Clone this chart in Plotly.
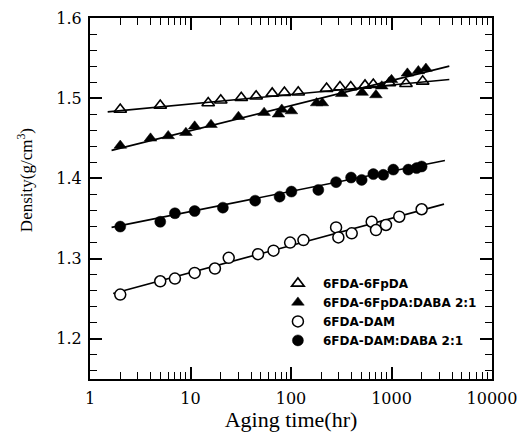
import plotly.graph_objects as go

# ---- data ----
t_6fpda = [2, 5, 15, 20, 32, 45, 65, 86, 118, 226, 307, 393, 545, 659, 951, 1393, 2043]
d_6fpda = [1.486, 1.491, 1.494, 1.4975, 1.5005, 1.5025, 1.506, 1.507, 1.5075, 1.512,
           1.514, 1.514, 1.516, 1.517, 1.519, 1.518, 1.521]

t_6fpda_daba = [2, 4, 6, 9, 11, 16, 30, 54, 75, 81, 101, 180, 205, 320, 510, 700, 800,
                1000, 1440, 1850, 2200]
d_6fpda_daba = [1.441, 1.450, 1.453, 1.457, 1.465, 1.467, 1.477, 1.482, 1.480, 1.486,
                1.484, 1.494, 1.494, 1.5055, 1.507, 1.504, 1.515, 1.523, 1.531, 1.534, 1.537]

t_dam = [2, 5, 7, 11, 17.5, 24, 47, 67, 98, 133, 281, 296, 402, 635, 701, 881, 1194, 1995]
d_dam = [1.2552, 1.2718, 1.2752, 1.2822, 1.2877, 1.301, 1.3056, 1.31, 1.320, 1.3232,
         1.339, 1.3265, 1.3316, 1.346, 1.3357, 1.342, 1.3523, 1.3616]

t_dam_daba = [2, 5, 7, 11, 21, 44, 77, 101, 187, 281, 396, 505, 659, 828, 1042, 1469,
              1778, 1995]
d_dam_daba = [1.340, 1.346, 1.3566, 1.3594, 1.3636, 1.3723, 1.3773, 1.3836, 1.3857,
              1.3954, 1.4011, 1.3982, 1.4054, 1.4045, 1.411, 1.411, 1.4129, 1.4149]

# fitted trend lines (end points)
fit_t_6fpda = [1.5, 3760]
fit_d_6fpda = [1.483, 1.5234]
fit_t_6fpda_daba = [1.64, 3760]
fit_d_6fpda_daba = [1.435, 1.540]
fit_t_dam = [1.7, 3330]
fit_d_dam = [1.2565, 1.368]
fit_t_dam_daba = [1.64, 3400]
fit_d_dam_daba = [1.339, 1.4224]

names = ["6FDA-6FpDA", "6FDA-6FpDA:DABA 2:1", "6FDA-DAM", "6FDA-DAM:DABA 2:1"]
x_ticks = [1, 10, 100, 1000, 10000]
x_ticktext = ["1", "10", "100", "1000", "10000"]
y_ticks = [1.2, 1.3, 1.4, 1.5, 1.6]
y_ticktext = ["1.2", "1.3", "1.4", "1.5", "1.6"]
x_title = "Aging time(hr)"
y_title = "Density(g/cm<sup>3</sup>)"

fig = go.Figure()

for ft, fd in [(fit_t_6fpda, fit_d_6fpda), (fit_t_6fpda_daba, fit_d_6fpda_daba),
               (fit_t_dam, fit_d_dam), (fit_t_dam_daba, fit_d_dam_daba)]:
    fig.add_trace(go.Scatter(x=ft, y=fd, mode="lines", showlegend=False,
                             line=dict(color="black", width=1.6), hoverinfo="skip"))

fig.add_trace(go.Scatter(x=t_6fpda, y=d_6fpda, mode="markers", name=names[0],
                         marker=dict(symbol="triangle-up-open", size=11, color="black",
                                     line=dict(width=1.6, color="black"))))
fig.add_trace(go.Scatter(x=t_6fpda_daba, y=d_6fpda_daba, mode="markers", name=names[1],
                         marker=dict(symbol="triangle-up", size=11, color="black",
                                     line=dict(width=0.5, color="black"))))
fig.add_trace(go.Scatter(x=t_dam, y=d_dam, mode="markers", name=names[2],
                         marker=dict(symbol="circle", size=11, color="white",
                                     line=dict(width=1.5, color="black"))))
fig.add_trace(go.Scatter(x=t_dam_daba, y=d_dam_daba, mode="markers", name=names[3],
                         marker=dict(symbol="circle", size=11, color="black",
                                     line=dict(width=0.5, color="black"))))

tick_font = dict(family="DejaVu Serif", size=16, color="black")
title_font_family = "Liberation Serif, Times New Roman, serif"

fig.update_layout(
    width=524, height=432,
    margin=dict(l=90, r=32, t=18, b=53, autoexpand=False),
    paper_bgcolor="white", plot_bgcolor="white",
    showlegend=True,
    legend=dict(x=0.455, y=0.305, xanchor="left", yanchor="top",
                bgcolor="rgba(0,0,0,0)", borderwidth=0,
                font=dict(family="DejaVu Sans, sans-serif", size=12,
                          color="black", weight="bold"),
                tracegroupgap=0, itemwidth=40),
    xaxis=dict(
        type="log", range=[0, 4], automargin=False,
        tickmode="array", tickvals=x_ticks, ticktext=x_ticktext,
        ticks="inside", ticklen=12, tickwidth=1.5, tickcolor="black",
        showline=True, linewidth=2, linecolor="black", mirror="allticks",
        showgrid=False, zeroline=False,
        tickfont=tick_font, ticklabelstandoff=4,
        minor=dict(ticks="inside", ticklen=7, tickwidth=1.2, tickcolor="black",
                   dtick="D1", showgrid=False),
        title=dict(text=x_title,
                   font=dict(family=title_font_family, size=22, color="black"),
                   standoff=6),
    ),
    yaxis=dict(
        range=[1.15, 1.6], automargin=False,
        tickmode="array", tickvals=y_ticks, ticktext=y_ticktext,
        ticks="inside", ticklen=12, tickwidth=1.5, tickcolor="black",
        showline=True, linewidth=2, linecolor="black", mirror="allticks",
        showgrid=False, zeroline=False,
        tickfont=tick_font, ticklabelstandoff=3,
        minor=dict(ticks="inside", ticklen=7, tickwidth=1.2, tickcolor="black",
                   tick0=1.2, dtick=0.02, showgrid=False),
    ),
    annotations=[dict(text=y_title, xref="paper", yref="paper",
                      x=-0.16, y=0.55, xanchor="center", yanchor="middle",
                      textangle=-90, showarrow=False,
                      font=dict(family=title_font_family, size=17, color="black"))],
)

fig.write_html("out.html")
